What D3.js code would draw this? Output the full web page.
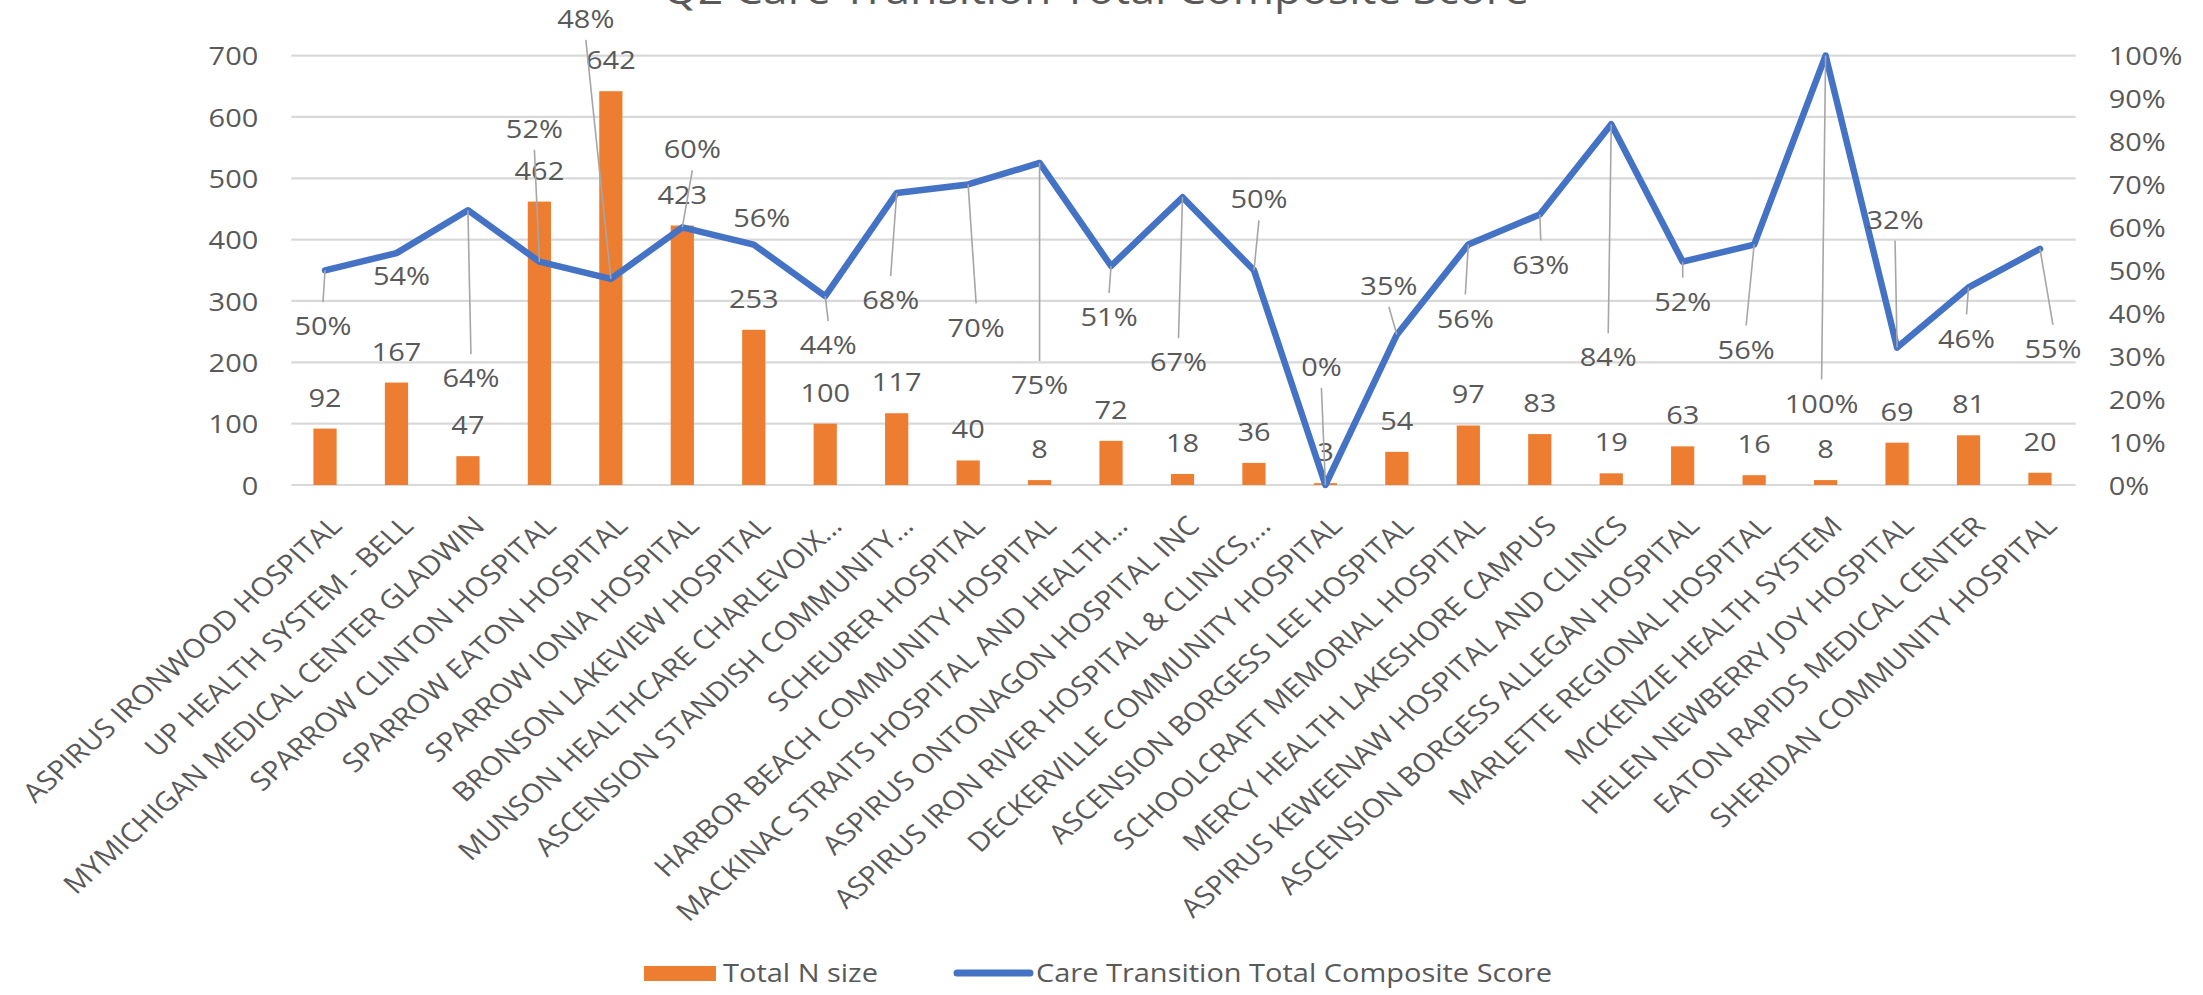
<!DOCTYPE html>
<html>
<head>
<meta charset="utf-8">
<script src="https://cdn.jsdelivr.net/npm/d3@7"></script>
<style>
  html, body { margin: 0; padding: 0; background: #ffffff; }
  svg { display: block; }
  text { font-family: "Open Sans", sans-serif; fill: #595959; }
</style>
</head>
<body>
<div id="chart"></div>
<script>
// Hospitals (x categories)
const hospitals = [
    'ASPIRUS IRONWOOD HOSPITAL',
    'UP HEALTH SYSTEM - BELL',
    'MYMICHIGAN MEDICAL CENTER GLADWIN',
    'SPARROW CLINTON HOSPITAL',
    'SPARROW EATON HOSPITAL',
    'SPARROW IONIA HOSPITAL',
    'BRONSON LAKEVIEW HOSPITAL',
    'MUNSON HEALTHCARE CHARLEVOIX…',
    'ASCENSION STANDISH COMMUNITY…',
    'SCHEURER HOSPITAL',
    'HARBOR BEACH COMMUNITY HOSPITAL',
    'MACKINAC STRAITS HOSPITAL AND HEALTH…',
    'ASPIRUS ONTONAGON HOSPITAL INC',
    'ASPIRUS IRON RIVER HOSPITAL & CLINICS,…',
    'DECKERVILLE COMMUNITY HOSPITAL',
    'ASCENSION BORGESS LEE HOSPITAL',
    'SCHOOLCRAFT MEMORIAL HOSPITAL',
    'MERCY HEALTH LAKESHORE CAMPUS',
    'ASPIRUS KEWEENAW HOSPITAL AND CLINICS',
    'ASCENSION BORGESS ALLEGAN HOSPITAL',
    'MARLETTE REGIONAL HOSPITAL',
    'MCKENZIE HEALTH SYSTEM',
    'HELEN NEWBERRY JOY HOSPITAL',
    'EATON RAPIDS MEDICAL CENTER',
    'SHERIDAN COMMUNITY HOSPITAL'
];

// Series
const nSize = [92, 167, 47, 462, 642, 423, 253, 100, 117, 40, 8, 72, 18, 36, 3,
               54, 97, 83, 19, 63, 16, 8, 69, 81, 20];
const compositeScore = [0.50, 0.54, 0.64, 0.52, 0.48, 0.60, 0.56, 0.44, 0.68, 0.70,
                        0.75, 0.51, 0.67, 0.50, 0.00, 0.35, 0.56, 0.63, 0.84, 0.52,
                        0.56, 1.00, 0.32, 0.46, 0.55];

// Axis ticks
const leftTicks = [0, 100, 200, 300, 400, 500, 600, 700];
const rightTicks = [0, 0.1, 0.2, 0.3, 0.4, 0.5, 0.6, 0.7, 0.8, 0.9, 1.0];

// Where the score labels were dragged to (px from the point)
const scoreLabelOffsets = [
    [-2, 56], [5, 23], [3, 168], [-5, -133], [-25, -260], [10, -78], [8, -27],
    [3, 49], [-6, 107], [8, 143], [0, 222], [-2, 51], [-4, 165], [5, -71],
    [-4, -118], [-8, -49], [-3, 74], [1, 50], [-3, 233], [0, 40], [-8, 105],
    [-4, 348], [-2, -128], [-2, 51], [13, 100]
];

const WIDTH = 2203, HEIGHT = 995;
const STRETCH = 1.115;      // the original picture is a little wide
const FONT = 26;
const COLORS = { bar: '#ED7D31', line: '#4472C4', grid: '#D9D9D9', leader: '#A6A6A6' };

const plot = { left: 289.3, right: 2075.7, top: 55.6, bottom: 485 };

const svg = d3.select('#chart').append('svg')
    .attr('width', WIDTH)
    .attr('height', HEIGHT);

const x = d3.scaleBand()
    .domain(hospitals)
    .range([plot.left, plot.right])
    .paddingInner(0.675)
    .paddingOuter(0.3375);

const yLeft = d3.scaleLinear().domain([0, 700]).range([plot.bottom, plot.top]);
const yRight = d3.scaleLinear().domain([0, 1]).range([plot.bottom, plot.top]);
const pct = d3.format('.0%');
const cx = d => x(d) + x.bandwidth() / 2;

// place a (stretched) text at px, py
function put(sel, px, py, extra) {
    return sel.attr('transform', `translate(${px},${py}) scale(${STRETCH},1)` + (extra || ''));
}

// Title (cut off at top of the picture, as in the original)
put(svg.append('text'), 1096, 4)
    .attr('text-anchor', 'middle')
    .attr('font-size', 40)
    .text('Q2 Care Transition Total Composite Score');

// Gridlines
svg.append('g').selectAll('line')
    .data(leftTicks)
    .join('line')
    .attr('x1', plot.left + 2)
    .attr('x2', plot.right)
    .attr('y1', d => yLeft(d))
    .attr('y2', d => yLeft(d))
    .attr('stroke', COLORS.grid)
    .attr('stroke-width', 2.2);

// Left axis
const leftAxis = svg.append('g')
    .attr('transform', `translate(${plot.left},0)`)
    .call(d3.axisLeft(yLeft).tickValues(leftTicks).tickSize(0).tickFormat(d3.format('d')));
leftAxis.select('.domain').remove();
leftAxis.selectAll('text')
    .attr('x', null).attr('dy', '0.35em')
    .attr('transform', `translate(-31,0) scale(${STRETCH},1)`)
    .attr('font-size', FONT)
    .attr('font-family', null)
    .attr('fill', null);

// Right axis
const rightAxis = svg.append('g')
    .attr('transform', `translate(${plot.right},0)`)
    .call(d3.axisRight(yRight).tickValues(rightTicks).tickSize(0).tickFormat(pct));
rightAxis.select('.domain').remove();
rightAxis.selectAll('text')
    .attr('x', null).attr('dy', '0.35em')
    .attr('transform', `translate(33,0) scale(${STRETCH},1)`)
    .attr('font-size', FONT)
    .attr('font-family', null)
    .attr('fill', null);

// Category labels, rotated
svg.append('g').selectAll('text')
    .data(hospitals)
    .join('text')
    .each(function(d) { put(d3.select(this), cx(d) + 11, 521, ' rotate(-45)'); })
    .attr('text-anchor', 'end')
    .attr('dy', '0.35em')
    .attr('font-size', 26.5)
    .text(d => d);

// Bars
svg.append('g').selectAll('rect')
    .data(hospitals)
    .join('rect')
    .attr('x', d => x(d))
    .attr('width', x.bandwidth())
    .attr('y', (d, i) => yLeft(nSize[i]))
    .attr('height', (d, i) => plot.bottom - yLeft(nSize[i]))
    .attr('fill', COLORS.bar);

// Bar value labels
svg.append('g').selectAll('text')
    .data(hospitals)
    .join('text')
    .each(function(d, i) { put(d3.select(this), cx(d), yLeft(nSize[i]) - 22); })
    .attr('text-anchor', 'middle')
    .attr('font-size', FONT)
    .text((d, i) => nSize[i]);

// Score line
const line = d3.line()
    .x(d => cx(d))
    .y((d, i) => yRight(compositeScore[i]));

svg.append('path')
    .datum(hospitals)
    .attr('d', line)
    .attr('fill', 'none')
    .attr('stroke', COLORS.line)
    .attr('stroke-width', 6.5)
    .attr('stroke-linejoin', 'round')
    .attr('stroke-linecap', 'round');

// Score labels with leader lines
const scoreLabels = svg.append('g');
hospitals.forEach((h, i) => {
    const px = cx(h), py = yRight(compositeScore[i]);
    const [dx, dy] = scoreLabelOffsets[i];
    const lx = px + dx, ly = py + dy;
    if (Math.abs(dy) > 35) {
        scoreLabels.append('line')
            .attr('x1', lx)
            .attr('y1', dy > 0 ? ly - 24 : ly + 21)
            .attr('x2', px)
            .attr('y2', py)
            .attr('stroke', COLORS.leader)
            .attr('stroke-width', 1.6);
    }
    put(scoreLabels.append('text'), lx, ly)
        .attr('text-anchor', 'middle')
        .attr('dy', '0.35em')
        .attr('font-size', FONT)
        .text(pct(compositeScore[i]));
});

// Legend
const legend = svg.append('g');
legend.append('rect')
    .attr('x', 644).attr('y', 966)
    .attr('width', 72).attr('height', 15)
    .attr('fill', COLORS.bar);
put(legend.append('text'), 723, 981.5)
    .attr('font-size', FONT)
    .text('Total N size');
legend.append('line')
    .attr('x1', 957).attr('x2', 1030)
    .attr('y1', 973).attr('y2', 973)
    .attr('stroke', COLORS.line)
    .attr('stroke-width', 7)
    .attr('stroke-linecap', 'round');
put(legend.append('text'), 1036, 981.5)
    .attr('font-size', FONT)
    .text('Care Transition Total Composite Score');
</script>
</body>
</html>
